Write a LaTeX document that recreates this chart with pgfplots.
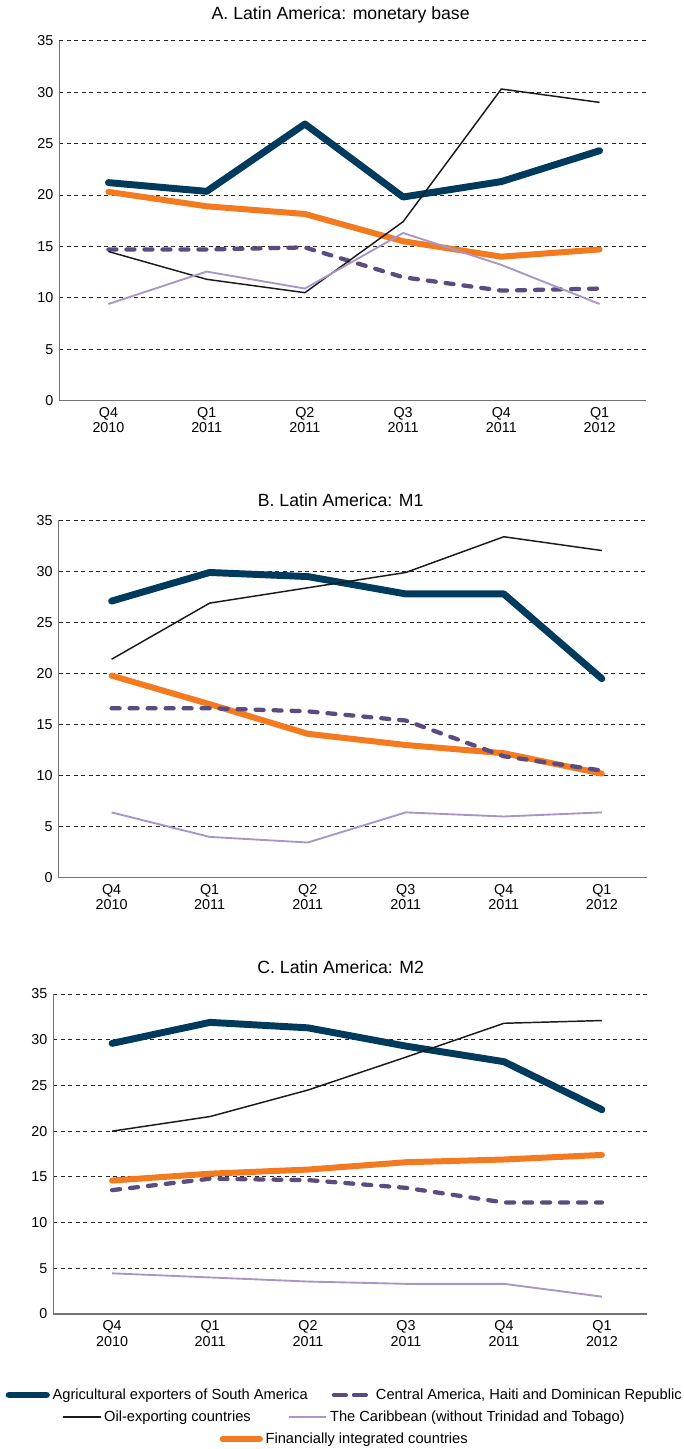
\documentclass[border=0pt]{standalone}
\usepackage{fontspec}
\setmainfont{Liberation Sans}
\usepackage{pgfplots}
\pgfplotsset{compat=1.18}
\definecolor{cAgri}{HTML}{003A5D}
\definecolor{cOrng}{HTML}{F47A20}
\definecolor{cCent}{HTML}{5B4B7E}
\definecolor{cCarib}{HTML}{A896C6}
\definecolor{cOil}{HTML}{1A1A1A}
\pgfplotsset{
  panel/.style={
    scale only axis,
    axis x line*=bottom, axis y line*=left,
    axis line style={draw=black!55, line width=1pt, -},
    ymin=0, ymax=35, ytick={0,5,...,35},
    xtick={0,...,5},
    xticklabels={{Q4\\2010},{Q1\\2011},{Q2\\2011},{Q3\\2011},{Q4\\2011},{Q1\\2012}},
    major tick length=0pt,
    ymajorgrids,
    grid style={black!85, line width=0.6pt, dash pattern=on 3pt off 2.6pt},
    tick label style={font=\fontsize{10.75}{11.5}\selectfont},
    xticklabel style={align=center, yshift=-1.5pt},
    yticklabel style={xshift=-1pt},
    /pgf/number format/assume math mode=true,
    clip=false,
  },
  sAgri/.style={color=cAgri, line width=5.2pt, line cap=round, line join=round},
  sOrng/.style={color=cOrng, line width=4.5pt, line cap=round, line join=round},
  sCent/.style={color=cCent, line width=3.2pt, line cap=round, line join=round, dash pattern=on 6pt off 7.5pt},
  sOil/.style={color=cOil, line width=1.1pt},
  sCarib/.style={color=cCarib, line width=1.4pt},
  legrow/.style={
    scale only axis, width=10pt, height=5pt, hide axis,
    xmin=0, xmax=1, ymin=0, ymax=1, anchor=center,
    legend columns=2,
    legend style={at={(0.5,0.5)}, anchor=center, draw=none, fill=none,
      font=\fontsize{11}{13}\selectfont},
    legend image code/.code={\draw[##1] (0pt,0pt) -- (28pt,0pt);},
  },
}
\begin{document}
\begin{tikzpicture}
\useasboundingbox (0pt,0pt) rectangle (512.25pt,-1086.75pt);
% ---------- Panel A ----------
\node[font=\fontsize{13.25}{15}\selectfont] at (255.5pt,-11.5pt) {A. Latin America: monetary base};
\begin{axis}[panel, at={(44.5pt,-300.5pt)}, anchor=south west,
  width=439.8pt, height=270pt, xmin=-0.5, xmax=5.47]
\addplot[sAgri] coordinates {(0,21.2) (1,20.35) (2,26.9) (3,19.8) (4,21.3) (5,24.3)};
\addplot[sOrng] coordinates {(0,20.3) (1,18.9) (2,18.15) (3,15.5) (4,14.0) (5,14.7)};
\addplot[sCent] coordinates {(0,14.7) (1,14.7) (2,14.9) (3,12.0) (4,10.7) (5,10.9)};
\addplot[sOil] coordinates {(0,14.5) (1,11.8) (2,10.5) (3,17.4) (4,30.3) (5,29.0)};
\addplot[sCarib] coordinates {(0,9.4) (1,12.55) (2,10.9) (3,16.3) (4,13.2) (5,9.4)};
\end{axis}
% ---------- Panel B ----------
\node[font=\fontsize{13.25}{15}\selectfont] at (255.5pt,-375pt) {B. Latin America: M1};
\begin{axis}[panel, at={(44pt,-658.3pt)}, anchor=south west,
  width=441.2pt, height=268pt, xmin=-0.54, xmax=5.46]
\addplot[sAgri] coordinates {(0,27.1) (1,29.9) (2,29.5) (3,27.8) (4,27.8) (5,19.5)};
\addplot[sOrng] coordinates {(0,19.8) (1,17.0) (2,14.1) (3,13.0) (4,12.2) (5,10.2)};
\addplot[sCent] coordinates {(0,16.6) (1,16.6) (2,16.3) (3,15.4) (4,11.9) (5,10.5)};
\addplot[sOil] coordinates {(0,21.4) (1,26.9) (2,28.4) (3,29.9) (4,33.4) (5,32.05)};
\addplot[sCarib] coordinates {(0,6.4) (1,4.0) (2,3.45) (3,6.4) (4,6.0) (5,6.4)};
\end{axis}
% ---------- Panel C ----------
\node[font=\fontsize{13.25}{15}\selectfont] at (255.5pt,-725.5pt) {C. Latin America: M2};
\begin{axis}[panel, at={(40pt,-985.5pt)}, anchor=south west,
  width=445.25pt, height=240pt, xmin=-0.6, xmax=5.46]
\addplot[sAgri] coordinates {(0,29.6) (1,31.9) (2,31.3) (3,29.3) (4,27.6) (5,22.35)};
\addplot[sOrng] coordinates {(0,14.6) (1,15.35) (2,15.8) (3,16.6) (4,16.9) (5,17.4)};
\addplot[sCent] coordinates {(0,13.55) (1,14.8) (2,14.65) (3,13.8) (4,12.2) (5,12.2)};
\addplot[sOil] coordinates {(0,20.0) (1,21.6) (2,24.5) (3,28.1) (4,31.8) (5,32.1)};
\addplot[sCarib] coordinates {(0,4.45) (1,4.0) (2,3.55) (3,3.3) (4,3.3) (5,1.9)};
\end{axis}
% ---------- Legend ----------
\begin{axis}[legrow, at={(258.75pt,-1046.25pt)},
  legend style={/tikz/every even column/.append style={column sep=16pt}}]
\addlegendimage{sAgri}\addlegendentry{Agricultural exporters of South America}
\addlegendimage{sCent, dash pattern=on 9pt off 6pt}\addlegendentry{Central America, Haiti and Dominican Republic}
\end{axis}
\begin{axis}[legrow, at={(258.75pt,-1062.75pt)},
  legend style={/tikz/every even column/.append style={column sep=26pt}}]
\addlegendimage{sOil}\addlegendentry{Oil-exporting countries}
\addlegendimage{sCarib}\addlegendentry{The Caribbean (without Trinidad and Tobago)}
\end{axis}
\begin{axis}[legrow, at={(258.75pt,-1079.25pt)}, legend columns=1]
\addlegendimage{sOrng}\addlegendentry{Financially integrated countries}
\end{axis}
\end{tikzpicture}
\end{document}
